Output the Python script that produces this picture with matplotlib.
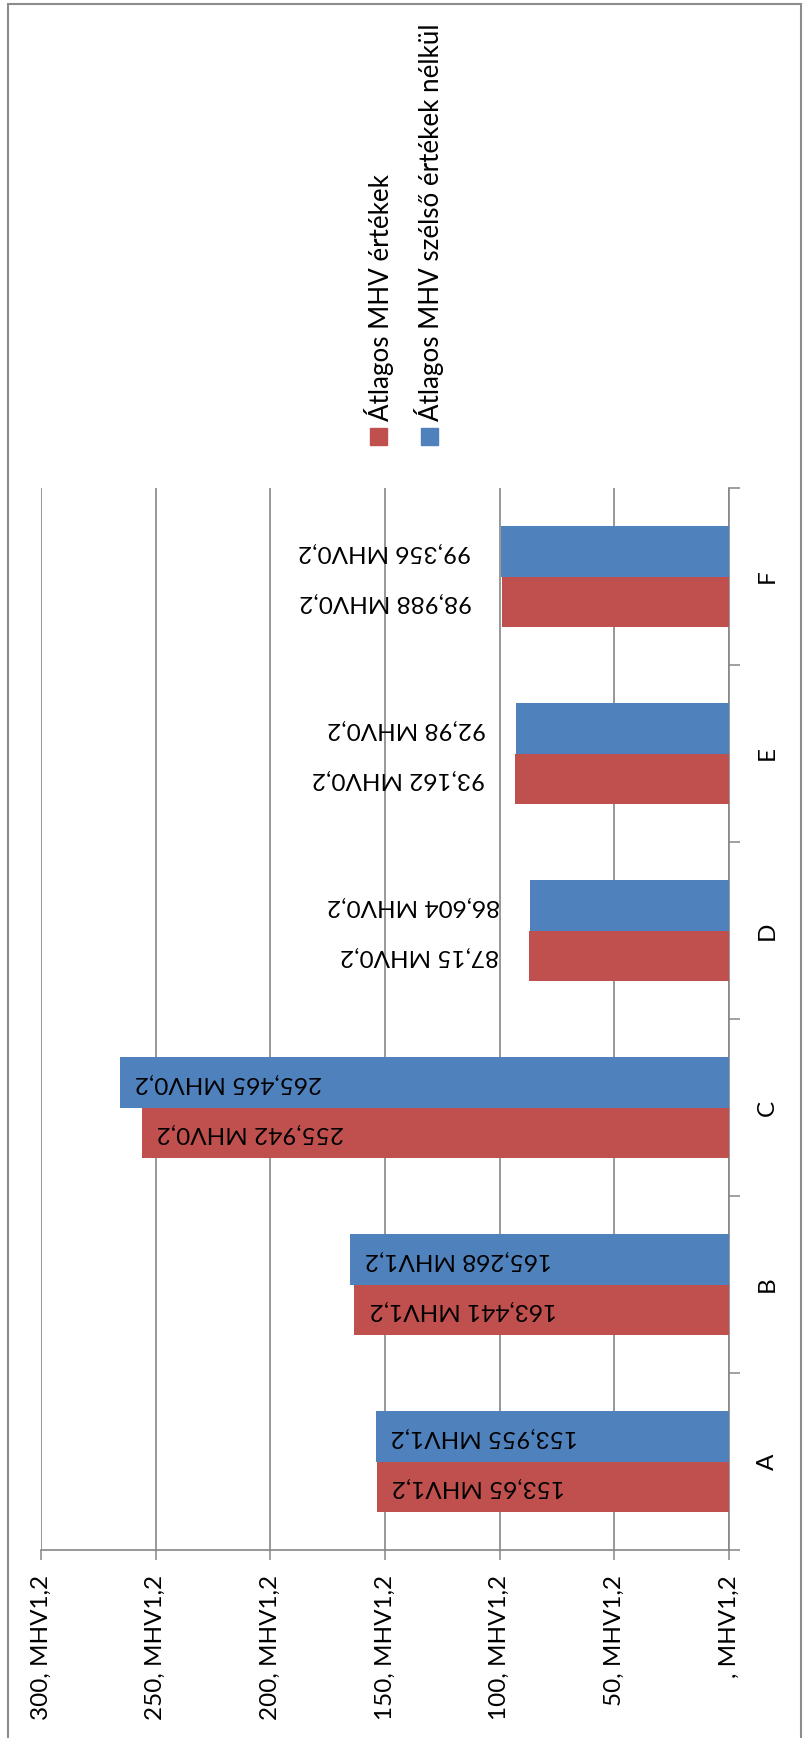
import matplotlib
matplotlib.use('Agg')
import matplotlib.pyplot as plt
from matplotlib.patches import Rectangle
import numpy as np

plt.rcParams['font.family'] = ['Lato', 'DejaVu Sans']

categories = ['A', 'B', 'C', 'D', 'E', 'F']
series_names = ['Átlagos MHV értékek', 'Átlagos MHV szélső értékek nélkül']
red_values = [153.65, 163.441, 255.942, 87.15, 93.162, 98.988]
blue_values = [153.955, 165.268, 265.465, 86.604, 92.98, 99.356]
units = ['MHV1,2', 'MHV1,2', 'MHV0,2', 'MHV0,2', 'MHV0,2', 'MHV0,2']
label_inside = [True, True, True, False, False, False]
xtick_values = [0, 50, 100, 150, 200, 250, 300]
xtick_labels = [', MHV1,2', '50, MHV1,2', '100, MHV1,2', '150, MHV1,2',
                '200, MHV1,2', '250, MHV1,2', '300, MHV1,2']

RED = '#C0504D'
BLUE = '#4F81BD'
GRID = '#868686'
FS = 17.5
FS_LEG = 18.7

W, H = 808, 1738
fig = plt.figure(figsize=(W / 100, H / 100), dpi=100)
fig.patch.set_facecolor('white')

# outer border
fig.add_artist(Rectangle((8 / W, -0.01), (801 - 8) / W, 1 - 4 / H + 0.01,
                         transform=fig.transFigure, fill=False,
                         edgecolor='#8c8c8c', lw=1.5))

ax = fig.add_axes([41 / W, 1 - 1550 / H, (729 - 41) / W, (1550 - 488) / H])

y = np.arange(len(categories))
h = 0.283
ax.barh(y - h / 2, red_values, height=h, color=RED, zorder=3)
ax.barh(y + h / 2, blue_values, height=h, color=BLUE, zorder=3)

ax.set_xlim(300, 0)
ax.set_ylim(-0.5, len(categories) - 0.5)

for i in range(len(categories)):
    for v, yc in ((red_values[i], y[i] - h / 2), (blue_values[i], y[i] + h / 2)):
        txt = f"{v}".replace('.', ',') + ' ' + units[i]
        if label_inside[i]:
            ax.annotate(txt, xy=(v, yc), xytext=(15, 0), textcoords='offset pixels',
                        ha='left', va='center', rotation=180, fontsize=FS, zorder=4)
        else:
            ax.annotate(txt, xy=(v, yc), xytext=(-30, 0), textcoords='offset pixels',
                        ha='right', va='center', rotation=180, fontsize=FS, zorder=4)

ax.set_xticks(xtick_values)
ax.set_xticklabels(xtick_labels, rotation=90, fontsize=FS)
ax.tick_params(axis='x', direction='out', length=7.2, width=1.1, color=GRID, pad=11)

ax.yaxis.tick_right()
ax.set_yticks(y)
ax.set_yticklabels(categories, rotation=90, fontsize=FS, va='center')
ax.set_yticks(np.arange(-0.5, len(categories), 1.0), minor=True)
ax.tick_params(axis='y', which='major', length=0, pad=20)
ax.tick_params(axis='y', which='minor', direction='out', length=8, width=1.1, color=GRID)

ax.xaxis.grid(True, color=GRID, lw=1.2)
ax.set_axisbelow(True)
for s in ('left', 'top'):
    ax.spines[s].set_visible(False)
for s in ('bottom', 'right'):
    ax.spines[s].set_color(GRID)
    ax.spines[s].set_linewidth(1.2)

# legend
legend_colors = [RED, BLUE]
legend_x = [378.5, 429.5]
for name, col, cx in zip(series_names, legend_colors, legend_x):
    fig.add_artist(Rectangle(((cx - 8.5) / W, 1 - 445 / H), 17 / W, 17 / H,
                             transform=fig.transFigure, color=col))
    fig.text(cx / W, 1 - 421 / H, name, rotation=90, ha='center', va='bottom',
             fontsize=FS_LEG)

fig.savefig('out.png', dpi=100)
